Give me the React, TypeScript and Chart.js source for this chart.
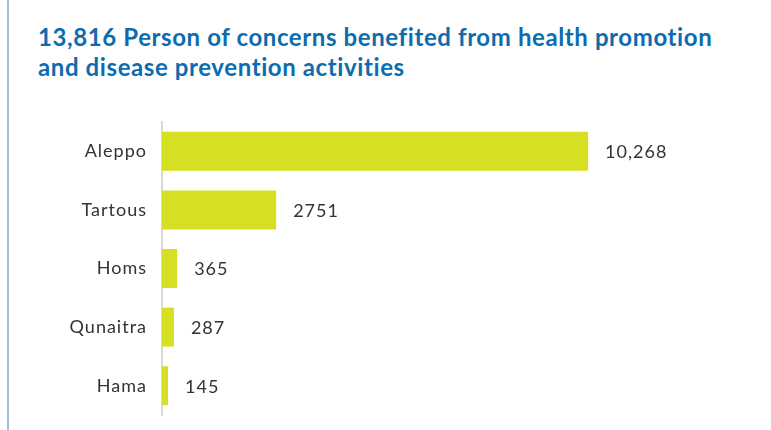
import React, { useEffect, useRef } from "react";
import { Chart, registerables } from "chart.js";

Chart.register(...registerables);

const TITLE_LINE_1 = "13,816 Person of concerns benefited from health promotion";
const TITLE_LINE_2 = "and disease prevention activities";
const categories = ["Aleppo", "Tartous", "Homs", "Qunaitra", "Hama"];
const values = [10268, 2751, 365, 287, 145];
const valueLabels = ["10,268", "2751", "365", "287", "145"];

const BAR_COLOR = "#d6e022";
const TEXT_COLOR = "#333333";
const TITLE_COLOR = "#0d6cb0";

const letterSpacingPlugin = {
  id: "letterSpacing",
  beforeDraw(chart: any) {
    chart.ctx.letterSpacing = "1px";
  },
};

const valueLabelPlugin = {
  id: "valueLabels",
  afterDatasetsDraw(chart: any) {
    const { ctx } = chart;
    const meta = chart.getDatasetMeta(0);
    ctx.save();
    ctx.letterSpacing = "1px";
    ctx.font = "18px Lato";
    ctx.fillStyle = TEXT_COLOR;
    ctx.textAlign = "left";
    ctx.textBaseline = "middle";
    meta.data.forEach((bar: any, i: number) => {
      ctx.fillText(valueLabels[i], bar.x + 17, bar.y + 1);
    });
    ctx.restore();
  },
};

export default function App() {
  const canvasRef = useRef<HTMLCanvasElement | null>(null);

  useEffect(() => {
    if (!canvasRef.current) return;
    const chart = new Chart(canvasRef.current, {
      type: "bar",
      data: {
        labels: categories,
        datasets: [
          {
            data: values,
            backgroundColor: BAR_COLOR,
            borderWidth: 0,
            barPercentage: 0.665,
            categoryPercentage: 1,
          },
        ],
      },
      options: {
        indexAxis: "y",
        animation: false,
        responsive: false,
        maintainAspectRatio: false,
        layout: { padding: { top: 12, bottom: 15, right: 28, left: 0 } },
        plugins: {
          legend: { display: false },
          tooltip: { enabled: false },
        },
        scales: {
          x: {
            display: false,
            min: 0,
            max: 14000,
          },
          y: {
            afterFit(scale: any) {
              scale.width = 162;
              scale.paddingTop = 0;
              scale.paddingBottom = 0;
            },
            grid: { display: false, drawTicks: false },
            border: { display: true, color: "#d9d9d9", width: 2 },
            ticks: {
              color: TEXT_COLOR,
              font: { family: "Lato", size: 18 },
              padding: 15,
            },
          },
        },
      },
      plugins: [letterSpacingPlugin, valueLabelPlugin],
    });
    return () => chart.destroy();
  }, []);

  return (
    <div
      style={{
        position: "absolute",
        left: 0,
        top: 0,
        width: 771,
        height: 430,
        background: "#fff",
        overflow: "hidden",
      }}
    >
      <div
        style={{
          position: "absolute",
          left: 7,
          top: 0,
          width: 2,
          height: 430,
          background: "#9dc1e6",
        }}
      />
      <div
        style={{
          position: "absolute",
          left: 38,
          top: 22,
          fontFamily: "Lato",
          fontWeight: 700,
          fontSize: 24,
          letterSpacing: "0.6px",
          lineHeight: "30px",
          color: TITLE_COLOR,
          whiteSpace: "nowrap",
        }}
      >
        <div>{TITLE_LINE_1}</div>
        <div>{TITLE_LINE_2}</div>
      </div>
      <canvas
        ref={canvasRef}
        width={771}
        height={320}
        style={{ position: "absolute", left: 0, top: 110, width: 771, height: 320 }}
      />
    </div>
  );
}
